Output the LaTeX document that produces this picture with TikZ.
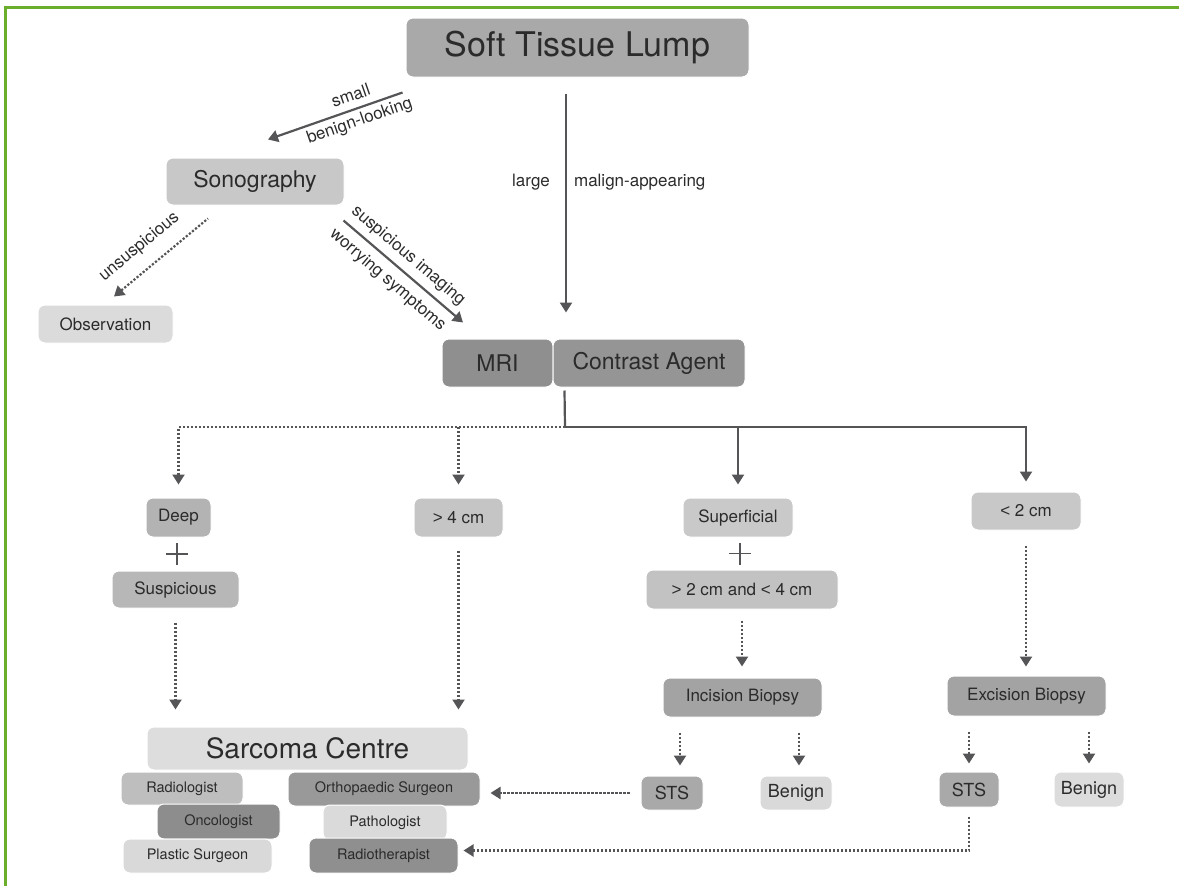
\documentclass[tikz,border=0pt]{standalone}
\usepackage{fontspec}
\setmainfont{TeX Gyre Heros}
\newfontfamily\lib{Liberation Sans}
\usetikzlibrary{arrows.meta,calc}
\definecolor{txt}{HTML}{2B2B2B}
\definecolor{ln}{HTML}{555558}
\definecolor{frm}{HTML}{6BAE2C}
\newcommand\fsz[1]{\fontsize{#1}{#1}\selectfont}
\newcommand\gtr{{\lib >}}
\newcommand\lss{{\lib <}}
\begin{document}
\begin{tikzpicture}[x=1pt,y=-1pt,
  box/.style={rounded corners=7pt, draw=white, line width=1pt, inner sep=0pt, text=txt, align=center},
  arr/.style={draw=ln, line width=2.2pt, -{Triangle[length=10pt,width=12pt]}},
  rarr/.style={draw=ln, line width=2.2pt, {Triangle[length=10pt,width=12pt]}-},
  darr/.style={arr, dash pattern=on 2.2pt off 1.8pt},
  rdarr/.style={rarr, dash pattern=on 2.2pt off 1.8pt},
  lne/.style={draw=ln, line width=2.2pt},
  lbl/.style={font=\fsz{17}, text=txt, inner sep=2pt},
  plus/.style={draw=ln, line width=1.6pt}
]
\useasboundingbox (0,0) rectangle (1179,886);
\draw[frm, line width=3pt] (5,886) -- (5,7) -- (1179,7);

% nodes
\node[box, fill={rgb,255:red,169;green,169;blue,169}, minimum width=343pt, minimum height=59pt, font=\fsz{34}] (lump) at (577.5,47.5) {Soft Tissue Lump};
\node[box, fill={rgb,255:red,200;green,200;blue,200}, minimum width=178pt, minimum height=47pt, font=\fsz{23}] (sono) at (255,181.5) {Sonography};
\node[box, fill={rgb,255:red,219;green,219;blue,219}, minimum width=135pt, minimum height=38pt, font=\fsz{17}] (obs) at (105.5,324) {Observation};
\node[box, fill={rgb,255:red,143;green,143;blue,143}, minimum width=111pt, minimum height=48pt, font=\fsz{23}] (mri) at (497.5,363) {MRI};
\node[box, fill={rgb,255:red,149;green,149;blue,149}, minimum width=192pt, minimum height=48pt, font=\fsz{23}] (ca) at (649,363) {Contrast Agent};

\node[box, fill={rgb,255:red,179;green,179;blue,179}, minimum width=65pt, minimum height=39pt, font=\fsz{17}] (deep) at (178.5,517.5) {Deep};
\node[box, fill={rgb,255:red,183;green,183;blue,183}, minimum width=127pt, minimum height=37pt, font=\fsz{17}] (susp) at (175.5,589.5) {Suspicious};
\node[box, fill={rgb,255:red,197;green,197;blue,197}, minimum width=89pt, minimum height=39pt, font=\fsz{17}] (gt4) at (458.5,517.5) {\gtr{} 4 cm};
\node[box, fill={rgb,255:red,201;green,201;blue,201}, minimum width=110pt, minimum height=39pt, font=\fsz{17}] (sup) at (738,517.5) {Superficial};
\node[box, fill={rgb,255:red,194;green,194;blue,194}, minimum width=192pt, minimum height=39pt, font=\fsz{17}] (range) at (742,589.5) {\gtr{} 2 cm and \lss{} 4 cm};
\node[box, fill={rgb,255:red,200;green,200;blue,200}, minimum width=110pt, minimum height=38pt, font=\fsz{17}] (lt2) at (1026,511) {\lss{} 2 cm};
\node[box, fill={rgb,255:red,163;green,163;blue,163}, minimum width=159pt, minimum height=39pt, font=\fsz{17}] (incision) at (742.5,697.5) {Incision Biopsy};
\node[box, fill={rgb,255:red,163;green,163;blue,163}, minimum width=159pt, minimum height=40pt, font=\fsz{17}] (excision) at (1026.5,696) {Excision Biopsy};
\node[box, fill={rgb,255:red,169;green,169;blue,169}, minimum width=62pt, minimum height=34pt, font=\fsz{18}] (sts1) at (672,793) {STS};
\node[box, fill={rgb,255:red,217;green,217;blue,217}, minimum width=72pt, minimum height=34pt, font=\fsz{18}] (ben1) at (796,793) {Benign};
\node[box, fill={rgb,255:red,169;green,169;blue,169}, minimum width=60pt, minimum height=35pt, font=\fsz{18}] (sts2) at (969,789.5) {STS};
\node[box, fill={rgb,255:red,220;green,220;blue,220}, minimum width=70pt, minimum height=35pt, font=\fsz{18}] (ben2) at (1089,789.5) {Benign};

\node[box, fill={rgb,255:red,221;green,221;blue,221}, minimum width=321pt, minimum height=43pt, font=\fsz{28}] (sarcoma) at (307.5,748.5) {Sarcoma Centre};
\node[box, fill={rgb,255:red,190;green,190;blue,190}, minimum width=122pt, minimum height=33pt, font=\fsz{14.5}] (radiol) at (182,788.5) {Radiologist};
\node[box, fill={rgb,255:red,141;green,141;blue,141}, minimum width=123pt, minimum height=35pt, font=\fsz{14.5}] (onco) at (218.5,821.5) {Oncologist};
\node[box, fill={rgb,255:red,217;green,217;blue,217}, minimum width=149pt, minimum height=34pt, font=\fsz{14.5}] (plastic) at (197.5,856) {Plastic Surgeon};
\node[box, fill={rgb,255:red,153;green,153;blue,153}, minimum width=192pt, minimum height=34pt, font=\fsz{14.5}] (ortho) at (384,789) {Orthopaedic Surgeon};
\node[box, fill={rgb,255:red,218;green,218;blue,218}, minimum width=124pt, minimum height=35pt, font=\fsz{14.5}] (patho) at (385,822.5) {Pathologist};
\node[box, fill={rgb,255:red,143;green,143;blue,143}, minimum width=149pt, minimum height=35pt, font=\fsz{14.5}] (radioth) at (383.5,855.5) {Radiotherapist};

% plus signs
\coordinate (p1) at ($(deep.south)!0.5!(susp.north)$);
\draw[plus] ($(p1)+(-11,0)$) -- ($(p1)+(11,0)$) ($(p1)+(0,-11)$) -- ($(p1)+(0,11)$);
\coordinate (p2) at ($(sup.south)!0.5!(range.north)$);
\draw[plus] ($(p2)+(-11,0)$) -- ($(p2)+(11,0)$) ($(p2)+(0,-11)$) -- ($(p2)+(0,11)$);

% lump -> MRI/contrast
\coordinate (vx) at (566,0);
\draw[arr, shorten <=16pt, shorten >=26pt] (lump.south -| vx) -- node[lbl, pos=0.4, left=13pt] (lg) {large} node[lbl, pos=0.4, right=5pt] (ma) {malign-appearing} (ca.north -| vx);

% lump -> sonography
\coordinate (e1) at ($(sono.north)+(13,-18)$);
\coordinate (s1) at ($(lump.south west)+(-3,15)$);
\draw[rarr] (e1) -- node[lbl, pos=0.65, sloped, above=5pt] (sm) {small} node[lbl, pos=0.65, sloped, below=2pt] (bl) {benign-looking} (s1);

% sonography -> observation
\coordinate (e2) at ($(obs.north)+(8.5,-8)$);
\coordinate (s2) at ($(sono.south)+(-47,13)$);
\draw[rdarr] (e2) -- node[lbl, pos=0.42, sloped, above=11pt] (un) {unsuspicious} (s2);

% sonography -> MRI
\coordinate (s3) at ($(sono.south east)+(-1,15)$);
\coordinate (e3) at ($(mri.north)+(-34.5,-16)$);
\draw[arr] (s3) -- node[lbl, pos=0.46, sloped, above=4pt] (si) {suspicious imaging} node[lbl, pos=0.46, sloped, below=6pt] (ws) {worrying symptoms} (e3);

% trunk and branches
\coordinate (j) at (565,427);
\draw[lne] ($(ca.south west)+(12,3)$) -- (j);
\draw[arr] (j) -- (j -| lt2.north) -- ($(lt2.north)+(0,-10)$);
\draw[arr] (j -| sup.north) -- ($(sup.north)+(0,-13)$);
\draw[darr] (j) -- (j -| deep.north) -- ($(deep.north)+(0,-13)$);
\draw[darr] (j -| gt4.north) -- ($(gt4.north)+(0,-13)$);

% to sarcoma centre
\draw[darr, shorten <=14pt, shorten >=17pt] (susp.south) -- (susp.south |- sarcoma.north);
\draw[darr, shorten <=13pt, shorten >=17pt] (gt4.south) -- (gt4.south |- sarcoma.north);

% biopsies
\draw[darr, shorten <=11pt, shorten >=11pt] (range.south) -- (range.south |- incision.north);
\draw[darr, shorten <=15pt, shorten >=9pt] (lt2.south) -- (lt2.south |- excision.north);

\coordinate (i1) at ($(incision.south)+(-62.5,15)$);
\coordinate (i2) at ($(incision.south)+(56.5,15)$);
\coordinate (x1) at ($(excision.south)+(-57.5,15)$);
\coordinate (x2) at ($(excision.south)+(62.5,15)$);
\draw[darr, shorten >=10pt] (i1) -- (i1 |- sts1.north);
\draw[darr, shorten >=10pt] (i2) -- (i2 |- ben1.north);
\draw[darr, shorten >=8pt] (x1) -- (x1 |- sts2.north);
\draw[darr, shorten >=8pt] (x2) -- (x2 |- ben2.north);

% STS -> sarcoma centre team
\coordinate (sw) at ($(sts1.west)+(-11,0)$);
\draw[darr, shorten >=10pt] (sw) -- (sw -| ortho.east);
\coordinate (ss) at ($(sts2.south)+(0,9)$);
\coordinate (sc) at ($(ss |- radioth.east)+(0,-5)$);
\draw[darr, shorten >=5pt] (ss) -- (sc) -- (sc -| radioth.east);
\end{tikzpicture}
\end{document}
